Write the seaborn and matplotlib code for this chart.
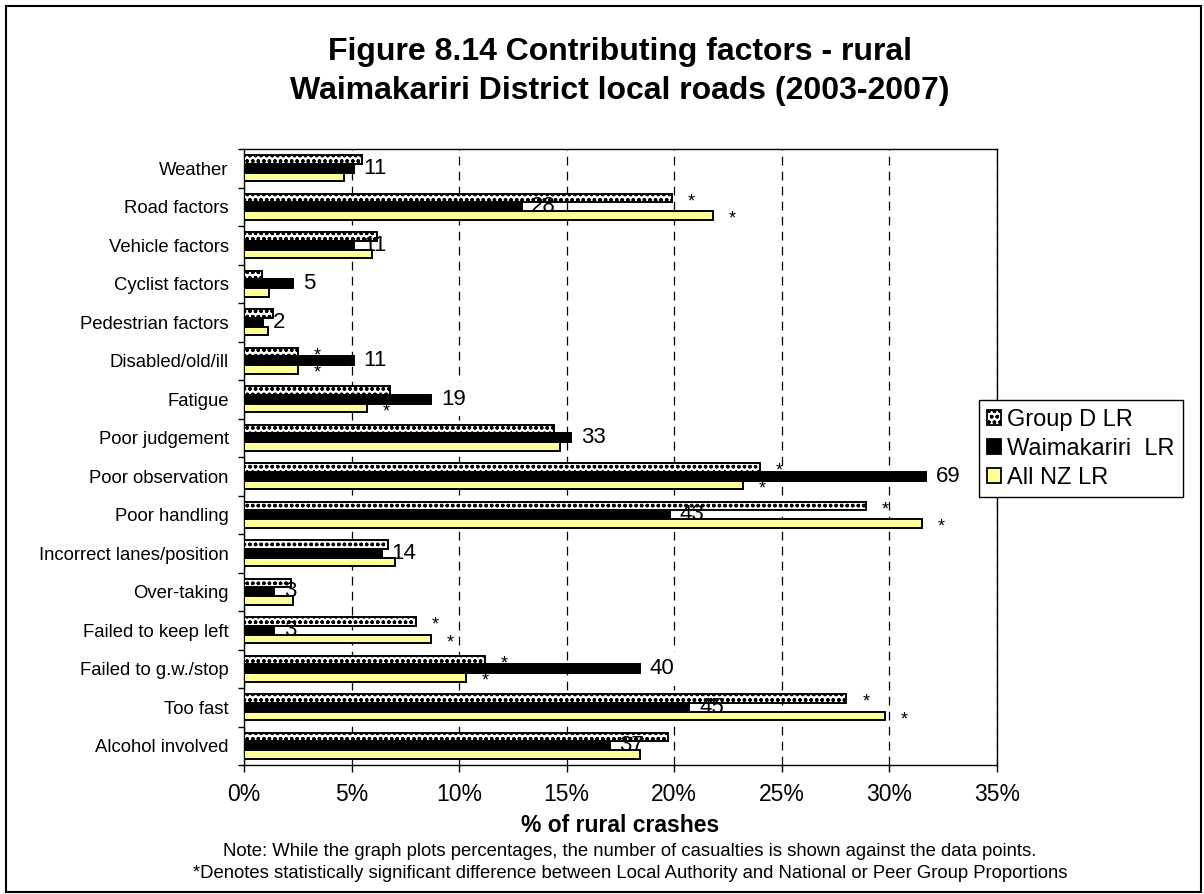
import matplotlib
matplotlib.use("Agg")
import matplotlib.pyplot as plt
import seaborn as sns
import pandas as pd
from matplotlib.patches import Patch, Rectangle
from matplotlib.ticker import FixedLocator, PercentFormatter

categories = ["Weather", "Road factors", "Vehicle factors", "Cyclist factors",
              "Pedestrian factors", "Disabled/old/ill", "Fatigue", "Poor judgement",
              "Poor observation", "Poor handling", "Incorrect lanes/position",
              "Over-taking", "Failed to keep left", "Failed to g.w./stop",
              "Too fast", "Alcohol involved"]
series_names = ["Group D LR", "Waimakariri  LR", "All NZ LR"]
group_d = [5.5, 19.9, 6.2, 0.85, 1.35, 2.5, 6.8, 14.4, 24.0, 28.9, 6.7, 2.2, 8.0, 11.2, 28.0, 19.7]
waimakariri = [5.1, 12.9, 5.1, 2.3, 0.9, 5.1, 8.7, 15.2, 31.7, 19.8, 6.4, 1.4, 1.4, 18.4, 20.7, 17.0]
all_nz = [4.65, 21.8, 5.95, 1.15, 1.1, 2.5, 5.7, 14.7, 23.2, 31.5, 7.0, 2.3, 8.7, 10.3, 29.8, 18.4]
counts = [11, 28, 11, 5, 2, 11, 19, 33, 69, 43, 14, 3, 3, 40, 45, 37]
star_group_d = [False, True, False, False, False, True, False, False, True, True, False, False, True, True, True, False]
star_all_nz = [False, True, False, False, False, True, True, False, True, True, False, False, True, True, True, False]
x_ticks = [0, 5, 10, 15, 20, 25, 30, 35]

df = pd.DataFrame({
    "category": categories * 3,
    "series": [series_names[0]] * 16 + [series_names[1]] * 16 + [series_names[2]] * 16,
    "value": group_d + waimakariri + all_nz,
})

sns.set_style("white")
plt.rcParams["font.family"] = ["Liberation Sans", "DejaVu Sans"]
plt.rcParams["hatch.linewidth"] = 1.0
for k in ("text.color", "axes.labelcolor", "xtick.color", "ytick.color"):
    plt.rcParams[k] = "black"

W, H = 1204, 894
fig = plt.figure(figsize=(W / 100, H / 100), dpi=100)
ax = fig.add_axes([244 / W, 1 - 765 / H, (997 - 244) / W, (765 - 149) / H])

palette = {series_names[0]: "white", series_names[1]: "black", series_names[2]: "#ffff99"}
sns.barplot(data=df, x="value", y="category", hue="series", orient="h",
            palette=palette, saturation=1, width=0.68, edgecolor="black",
            linewidth=1.4, legend=False, ax=ax, order=categories,
            hue_order=series_names, errorbar=None)

gd_bars, w_bars, nz_bars = ax.containers[0], ax.containers[1], ax.containers[2]
for b in gd_bars:
    b.set_hatch("ooo")
    b.set_zorder(3)
for b in nz_bars:
    b.set_zorder(3)
for b in w_bars:
    b.set_zorder(2)

ax.set_xlim(0, 35)
ax.set_ylim(15.5, -0.5)
ax.xaxis.set_major_locator(FixedLocator(x_ticks))
ax.xaxis.set_major_formatter(PercentFormatter(decimals=0))
ax.tick_params(axis="x", labelsize=16.5, length=5, width=1, direction="out",
               bottom=True, pad=8)
ax.tick_params(axis="y", labelsize=13.3, length=0, pad=11)
ax.yaxis.set_minor_locator(FixedLocator([i - 0.5 for i in range(len(categories) + 1)]))
ax.tick_params(axis="y", which="minor", length=4.5, width=1, left=True, direction="out")
ax.set_ylabel("")
ax.set_xlabel("% of rural crashes", fontsize=16.5, fontweight="bold")
ax.xaxis.label.set_va("center")
ax.xaxis.set_label_coords(0.5, -(825 - 765) / (765 - 149))

ax.grid(False)
ax.xaxis.grid(True, linestyle=(0, (7, 5)), color="black", linewidth=0.9)
ax.set_axisbelow(True)
for s in ax.spines.values():
    s.set_visible(True)
    s.set_color("black")
    s.set_linewidth(1.0)

# data labels (counts) on Waimakariri bars
for b, c in zip(w_bars, counts):
    xe = b.get_width()
    yc = b.get_y() + b.get_height() / 2
    ax.text(xe + 0.45, yc, str(c), ha="left", va="center", fontsize=16,
            color="none", zorder=2.5,
            bbox=dict(boxstyle="square,pad=0.3", facecolor="white", edgecolor="none"))
    ax.text(xe + 0.45, yc, str(c), ha="left", va="center", fontsize=16,
            color="black", zorder=6)

# significance stars
for bars, flags in ((gd_bars, star_group_d), (nz_bars, star_all_nz)):
    for b, f in zip(bars, flags):
        if f:
            ax.text(b.get_width() + 0.9, b.get_y() + b.get_height() / 2 + 0.1, "*",
                    ha="center", va="center", fontsize=13, color="black", zorder=6)

handles = [Patch(facecolor="white", edgecolor="black", hatch="ooo", linewidth=1.3),
           Patch(facecolor="black", edgecolor="black", linewidth=1.3),
           Patch(facecolor="#ffff99", edgecolor="black", linewidth=1.3)]
leg = fig.legend(handles, series_names, loc="lower left",
                 bbox_to_anchor=(979 / W, 1 - 497 / H), fontsize=17,
                 frameon=True, fancybox=False, edgecolor="black", framealpha=1,
                 handlelength=0.6, handleheight=0.6, handletextpad=0.25,
                 labelspacing=0.3, borderpad=0.35, borderaxespad=0)
leg.get_frame().set_linewidth(1.0)

fig.text(620 / W, 1 - 60 / H, "Figure 8.14 Contributing factors - rural",
         ha="center", va="baseline", fontsize=23, fontweight="bold")
fig.text(620 / W, 1 - 98.5 / H, "Waimakariri District local roads (2003-2007)",
         ha="center", va="baseline", fontsize=23, fontweight="bold")
fig.text(630 / W, 1 - 851 / H,
         "Note: While the graph plots percentages, the number of casualties is shown against the data points.",
         ha="center", va="center", fontsize=13.3)
fig.text(630 / W, 1 - 873 / H,
         "*Denotes statistically significant difference between Local Authority and National or Peer Group Proportions",
         ha="center", va="center", fontsize=13.3)

fig.add_artist(Rectangle((6 / W, 2 / H), (1201 - 6) / W, (892 - 6) / H,
                         transform=fig.transFigure, fill=False, edgecolor="black",
                         linewidth=1.5))

fig.savefig("out.png", dpi=100, facecolor="white")
